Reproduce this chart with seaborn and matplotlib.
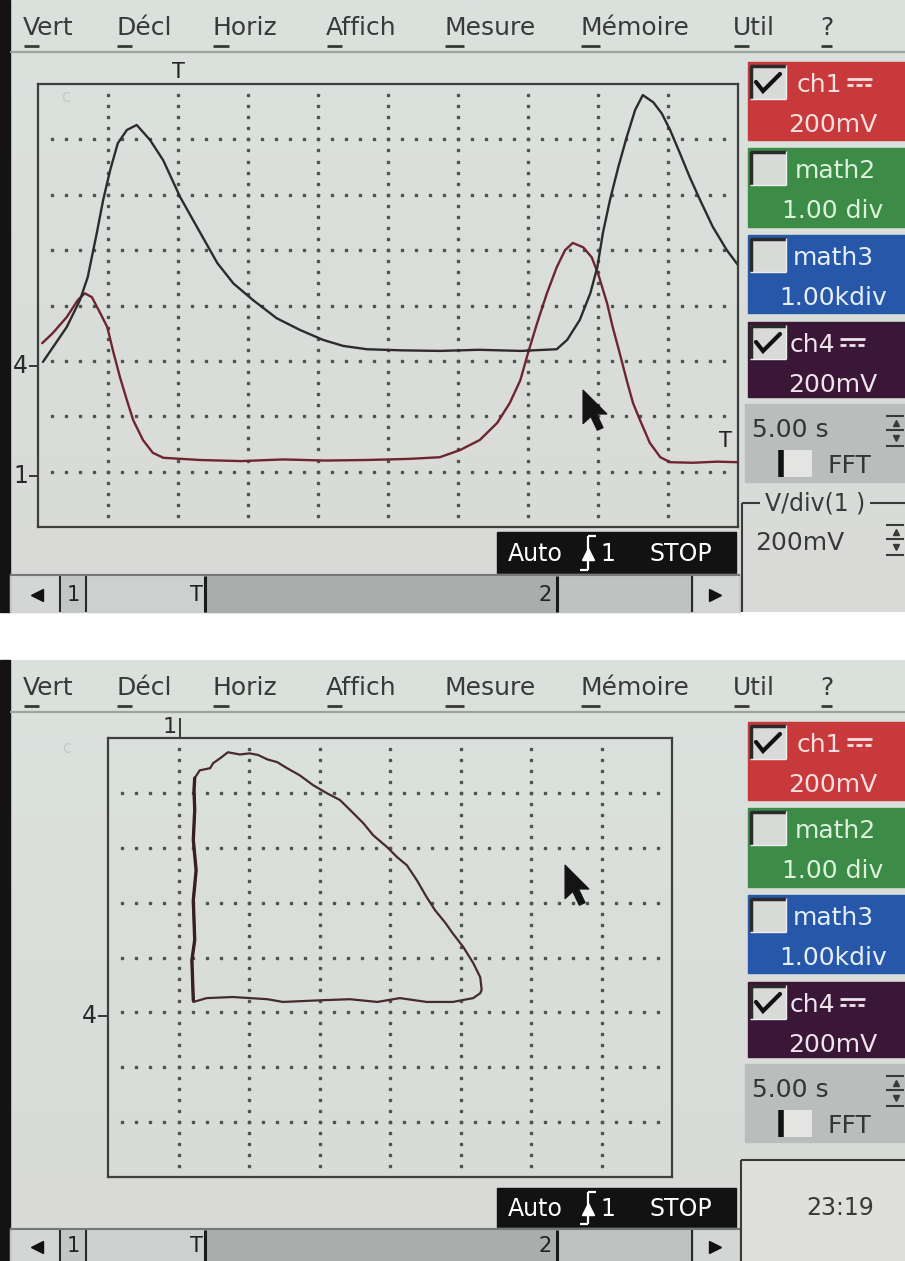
import matplotlib
matplotlib.use("Agg")
import matplotlib.pyplot as plt
from matplotlib.patches import Rectangle, Polygon
from matplotlib.colors import to_rgb
import numpy as np
import seaborn as sns

# ---- data (divisions: time 0..10, vertical 0..8 from bottom) ----
ch1_t = [0.07, 0.41, 0.60, 0.71, 0.84, 0.93, 1.03, 1.14, 1.27, 1.41,
         1.60, 1.79, 2.03, 2.27, 2.56, 2.79, 3.07, 3.41, 3.74, 4.07,
         4.36, 4.70, 5.20, 5.75, 6.30, 6.90, 7.41, 7.56, 7.74, 7.89,
         7.99, 8.07, 8.17, 8.29, 8.41, 8.53, 8.64, 8.79, 8.91, 9.03,
         9.17, 9.31, 9.46, 9.64, 9.84, 10.0]
ch1_v = [2.98, 3.61, 4.10, 4.51, 5.31, 5.90, 6.44, 6.93, 7.17, 7.26,
         6.99, 6.62, 5.96, 5.42, 4.77, 4.40, 4.10, 3.77, 3.56, 3.38,
         3.27, 3.21, 3.19, 3.18, 3.20, 3.18, 3.21, 3.38, 3.74, 4.22,
         4.69, 5.31, 5.90, 6.50, 7.04, 7.53, 7.80, 7.67, 7.47, 7.17,
         6.75, 6.32, 5.90, 5.42, 5.00, 4.73]

ch4_t = [0.06, 0.21, 0.41, 0.57, 0.67, 0.77, 0.89, 0.99, 1.07, 1.17,
         1.27, 1.36, 1.50, 1.64, 1.79, 2.31, 2.90, 3.50, 4.10, 4.70,
         5.30, 5.74, 6.03, 6.31, 6.56, 6.74, 6.89, 7.00, 7.13, 7.27,
         7.41, 7.53, 7.64, 7.79, 7.91, 8.00, 8.13, 8.21, 8.31, 8.41,
         8.50, 8.60, 8.74, 8.89, 9.03, 9.36, 9.70, 9.99]
ch4_v = [3.32, 3.50, 3.79, 4.10, 4.22, 4.15, 3.86, 3.61, 3.19, 2.71,
         2.29, 1.93, 1.57, 1.34, 1.25, 1.21, 1.19, 1.22, 1.20, 1.21,
         1.23, 1.26, 1.39, 1.57, 1.88, 2.24, 2.65, 3.14, 3.68, 4.22,
         4.69, 5.00, 5.13, 5.05, 4.87, 4.58, 4.04, 3.61, 3.14, 2.65,
         2.24, 1.93, 1.52, 1.26, 1.17, 1.16, 1.18, 1.17]

# XY mode (ch1 horizontal, ch4 vertical), 8 x 8 divisions
xy_x = [1.21, 1.19, 1.23, 1.21, 1.25, 1.21, 1.23, 1.22, 1.23, 1.30,
        1.45, 1.49, 1.59, 1.70, 1.87, 2.01, 2.13, 2.26, 2.40, 2.54,
        2.72, 2.91, 3.11, 3.29, 3.48, 3.62, 3.76, 3.96, 4.10, 4.24,
        4.38, 4.52, 4.64, 4.78, 4.89, 5.04, 5.18, 5.28, 5.30, 5.28,
        5.18, 4.89, 4.52, 4.14, 3.82, 3.43, 3.01, 2.48, 2.26, 1.77,
        1.40, 1.21]
xy_y = [3.22, 3.95, 4.32, 5.04, 5.59, 6.14, 6.69, 7.05, 7.27, 7.41,
        7.45, 7.54, 7.63, 7.74, 7.70, 7.72, 7.69, 7.61, 7.56, 7.45,
        7.32, 7.14, 6.99, 6.87, 6.63, 6.45, 6.23, 6.01, 5.83, 5.68,
        5.41, 5.10, 4.86, 4.64, 4.44, 4.19, 3.90, 3.64, 3.41, 3.35,
        3.26, 3.19, 3.19, 3.26, 3.19, 3.24, 3.22, 3.19, 3.24, 3.28,
        3.26, 3.19]

menu_items = ["Vert", "Décl", "Horiz", "Affich", "Mesure", "Mémoire", "Util", "?"]
menu_x = [23, 116, 212, 326, 444, 580, 733, 820]
menu_w = [15, 15, 16, 15, 19, 19, 15, 11]

chan_names = ["ch1", "math2", "math3", "ch4"]
chan_values = ["200mV", "1.00 div", "1.00kdiv", "200mV"]
chan_checked = [True, False, False, True]
chan_dc = [True, False, False, True]

timebase = "5.00 s"
vdiv_title = "V/div(1 )"
vdiv_value = "200mV"
clock = "23:19"

# ---- style ----
sns.set_theme(style="white")
plt.rcParams["font.family"] = ["DejaVu Sans"]

SCREEN_TOP = "#dbe2de"
SCREEN_BOT = "#d9dad7"
INK = "#363a38"
chan_colors = ["#c8393b", "#3c8b46", "#2657a8", "#3a1736"]
chan_text = ["#f8e0e0", "#ddf2dd", "#e6eef9", "#eee4ec"]
chan_top = [62, 148, 235, 322]
chan_h = [78, 79, 78, 75]
chan_name_x = [797, 795, 793, 790]

W, H = 905, 1261
fig = plt.figure(figsize=(W / 100, H / 100), dpi=100, facecolor="white")
bg = fig.add_axes([0, 0, 1, 1])
bg.axis("off")


def px_axes(x0, y0, x1, y1, z=1):
    return fig.add_axes([x0 / W, 1 - y1 / H, (x1 - x0) / W, (y1 - y0) / H], zorder=z)


def hline(x0, x1, y, **kw):
    bg.plot([x0, x1], [y, y], solid_capstyle="butt", **kw)


def vline(x, y0, y1, **kw):
    bg.plot([x, x], [y0, y1], solid_capstyle="butt", **kw)


def checkbox(x, y, checked):
    bg.add_patch(Rectangle((x, y), 36, 34, facecolor="#d8dad8", edgecolor="none", zorder=3))
    hline(x, x + 36, y + 1, color="#2a2a2a", lw=2.5, zorder=4)
    vline(x + 1, y, y + 34, color="#2a2a2a", lw=2.5, zorder=4)
    hline(x, x + 36, y + 34, color="#eeeeee", lw=1, zorder=4)
    vline(x + 36, y, y + 34, color="#eeeeee", lw=1, zorder=4)
    if checked:
        bg.plot([x + 6, x + 13, x + 30], [y + 17, y + 26, y + 9], color="#111111",
                lw=3, zorder=5, solid_joinstyle="miter")


def dc_symbol(x, base, color):
    hline(x, x + 25, base - 13, color=color, lw=2, zorder=5)
    for k in range(3):
        hline(x + k * 9, x + k * 9 + 6, base - 7, color=color, lw=2, zorder=5)


def spinner(x, y):
    hline(x, x + 18, y, color=INK, lw=1.5, zorder=4)
    bg.plot([x + 10], [y + 7], marker="^", ms=5, color=INK, zorder=4)
    hline(x, x + 18, y + 14, color=INK, lw=1.5, zorder=4)
    bg.plot([x + 10], [y + 22], marker="v", ms=5, color=INK, zorder=4)
    hline(x, x + 18, y + 30, color=INK, lw=1.5, zorder=4)


def draw_panel(y0, h):
    grad = np.linspace(0, 1, 64)[:, None, None]
    img = (1 - grad) * np.array(to_rgb(SCREEN_TOP)) + grad * np.array(to_rgb(SCREEN_BOT))
    bg.imshow(img, extent=(10, W, y0 + h, y0), aspect="auto", interpolation="bilinear", zorder=0)
    bg.add_patch(Rectangle((0, y0), 10, h, color="#131313", zorder=1))
    for name, x, w in zip(menu_items, menu_x, menu_w):
        bg.text(x, y0 + 35, name, fontsize=18, color=INK, ha="left", va="baseline", zorder=3)
        hline(x + 1, x + 1 + w, y0 + 46, color=INK, lw=2, zorder=3)
    hline(10, W, y0 + 52, color="#9da29f", lw=1.6, zorder=2)

    # channel boxes
    for i in range(4):
        top = y0 + chan_top[i]
        bg.add_patch(Rectangle((748, top), W - 748, chan_h[i], color=chan_colors[i], zorder=2))
        checkbox(750, top + 3, chan_checked[i])
        bg.text(chan_name_x[i], top + 30, chan_names[i], fontsize=18, color=chan_text[i],
                ha="left", va="baseline", zorder=5)
        if chan_dc[i]:
            dc_symbol(chan_name_x[i] + 50, top + 30, chan_text[i])
        bg.text(833, top + 70, chan_values[i], fontsize=18, color=chan_text[i],
                ha="center", va="baseline", zorder=5)

    # timebase box
    top = y0 + 404
    bg.add_patch(Rectangle((745, top), W - 745, 78, color="#b9bdbc", zorder=2))
    bg.text(752, top + 33, timebase, fontsize=18, color="#353535", ha="left", va="baseline", zorder=5)
    spinner(886, top + 12)
    bg.add_patch(Rectangle((779, top + 46), 33, 27, facecolor="#e4e5e3", edgecolor="none", zorder=3))
    vline(781, top + 46, top + 73, color="#111111", lw=4, zorder=4)
    bg.text(827, top + 69, "FFT", fontsize=18, color="#353535", ha="left", va="baseline", zorder=5)


def draw_bottom_bar(a_top, b_top, b_bot):
    # trigger / run state box
    bg.add_patch(Rectangle((497, a_top), 239, b_top - a_top, color="#121212", zorder=3))
    mid = (a_top + b_top) / 2 + 1
    bg.text(508, mid, "Auto", fontsize=17, color="white", ha="left", va="center", zorder=4)
    vline(588, a_top + 4, b_top - 4, color="white", lw=1.6, zorder=4)
    hline(588, 596, a_top + 4, color="white", lw=1.6, zorder=4)
    hline(580, 588, b_top - 4, color="white", lw=1.6, zorder=4)
    bg.plot([588], [mid], marker="^", ms=9, color="white", zorder=4)
    bg.text(600, mid, "1", fontsize=17, color="white", ha="left", va="center", zorder=4)
    bg.text(649, mid, "STOP", fontsize=17, color="white", ha="left", va="center", zorder=4)

    # scroll bar
    hgt = b_bot - b_top
    bg.add_patch(Rectangle((10, b_top), 730, hgt, color="#c2c6c5", zorder=3))
    bg.add_patch(Rectangle((12, b_top + 2), 46, hgt - 2, color="#d3d6d5", zorder=3))
    bg.add_patch(Rectangle((86, b_top + 2), 119, hgt - 2, color="#ccd0cf", zorder=3))
    bg.add_patch(Rectangle((205, b_top + 2), 352, hgt - 2, color="#a9adac", zorder=3))
    bg.add_patch(Rectangle((557, b_top + 2), 135, hgt - 2, color="#bec2c1", zorder=3))
    bg.add_patch(Rectangle((694, b_top + 2), 44, hgt - 2, color="#d3d6d5", zorder=3))
    hline(10, 740, b_top + 1, color="#747876", lw=1.5, zorder=4)
    mid = b_top + hgt / 2 + 2
    bg.plot([37], [mid], marker="<", ms=8, color="#111111", zorder=5)
    bg.plot([715], [mid], marker=">", ms=8, color="#111111", zorder=5)
    for x in (60, 86, 692):
        vline(x, b_top + 2, b_bot, color="#2a2a2a", lw=1.5, zorder=5)
    for x in (205, 557):
        vline(x, b_top + 2, b_bot, color="#1a1a1a", lw=2.2, zorder=5)
    for lab, x in (("1", 73), ("T", 196), ("2", 545)):
        bg.text(x, mid, lab, fontsize=15, color="#222222", ha="center", va="center", zorder=5)


def grid_dots(ax, nx, ny):
    sub = np.arange(1, 5 * ny) / 5
    for i in range(1, nx):
        ax.plot(np.full(sub.size, i), sub, ls="none", marker="s", ms=1.8, color="#4f5451")
    sub = np.arange(1, 5 * nx) / 5
    for j in range(1, ny):
        ax.plot(sub, np.full(sub.size, j), ls="none", marker="s", ms=1.8, color="#4f5451")


def scope_axes(x0, y0, x1, y1, nx, ny):
    ax = px_axes(x0, y0, x1, y1, z=2)
    ax.set_facecolor("none")
    ax.set_xlim(0, nx)
    ax.set_ylim(0, ny)
    ax.set_xticks([])
    ax.set_yticks([])
    for s in ax.spines.values():
        s.set_color("#3e3e3e")
        s.set_linewidth(1.6)
        s.set_visible(True)
    grid_dots(ax, nx, ny)
    return ax


def cursor(ax, tx, ty, s=1.3):
    shape = [(0, 0), (0, 26), (6, 20.5), (11, 31), (15.5, 29), (10.5, 18.5), (18.5, 18.5)]
    ax.add_patch(Polygon([(tx + s * dx, ty + s * dy) for dx, dy in shape], closed=True,
                         facecolor="#141414", edgecolor="#141414", lw=0.8))


# ---- top screen: time mode ----
draw_panel(0, 612)
draw_bottom_bar(532, 574, 612)
hline(742, 760, 503, color=INK, lw=1.5, zorder=3)
hline(870, W, 503, color=INK, lw=1.5, zorder=3)
vline(742, 503, 612, color=INK, lw=1.5, zorder=3)
bg.text(815, 503, vdiv_title, fontsize=17, color=INK, ha="center", va="center", zorder=4)
bg.text(755, 550, vdiv_value, fontsize=18, color=INK, ha="left", va="baseline", zorder=4)
spinner(886, 525)

bg.text(178, 72, "T", fontsize=15, color="#222222", ha="center", va="center", zorder=3)
bg.text(66, 97, "c", fontsize=12, color="#c5cbc7", ha="center", va="center", zorder=3)
for lab, y in (("4", 366), ("1", 476)):
    bg.text(28, y, lab, fontsize=17, color="#2a2a2a", ha="right", va="center", zorder=3)
    hline(29, 38, y, color="#2a2a2a", lw=1.3, zorder=3)

# ---- bottom screen: XY mode ----
draw_panel(660, 601)
draw_bottom_bar(1188, 1228, 1261)
bg.add_patch(Rectangle((741, 1160), W - 741, H - 1160, color="#dfe0dc", zorder=2))
hline(741, W, 1160, color=INK, lw=1.5, zorder=3)
vline(741, 1160, H, color=INK, lw=1.5, zorder=3)
bg.text(840, 1208, clock, fontsize=17, color=INK, ha="center", va="center", zorder=4)

bg.text(170, 727, "1", fontsize=16, color="#2a2a2a", ha="center", va="center", zorder=3)
vline(180, 718, 738, color="#2a2a2a", lw=1.3, zorder=3)
bg.text(97, 1016, "4", fontsize=17, color="#2a2a2a", ha="right", va="center", zorder=3)
hline(98, 108, 1016, color="#2a2a2a", lw=1.3, zorder=3)
bg.text(67, 748, "c", fontsize=12, color="#c5cbc7", ha="center", va="center", zorder=3)

bg.set_xlim(0, W)
bg.set_ylim(H, 0)

ax1 = scope_axes(38, 84, 738, 527, 10, 8)
sns.lineplot(x=ch4_t, y=ch4_v, ax=ax1, color="#6e2530", lw=1.7, estimator=None, sort=False)
sns.lineplot(x=ch1_t, y=ch1_v, ax=ax1, color="#2f2b2d", lw=1.7, estimator=None, sort=False)

ax2 = scope_axes(108, 738, 672, 1177, 8, 8)
sns.lineplot(x=xy_x, y=xy_y, ax=ax2, color="#472a2c", lw=1.6, estimator=None, sort=False)
sns.lineplot(x=xy_x[:9], y=xy_y[:9], ax=ax2, color="#3a1f22", lw=2.4, estimator=None, sort=False)

# ---- overlay: cursors and trigger level mark ----
ov = fig.add_axes([0, 0, 1, 1], zorder=5)
ov.set_xlim(0, W)
ov.set_ylim(H, 0)
ov.patch.set_alpha(0)
ov.axis("off")
cursor(ov, 583, 390)
cursor(ov, 565, 865)
ov.text(725, 441, "T", fontsize=15, color="#222222", ha="center", va="center")

fig.savefig("out.png", dpi=100, facecolor="white")
